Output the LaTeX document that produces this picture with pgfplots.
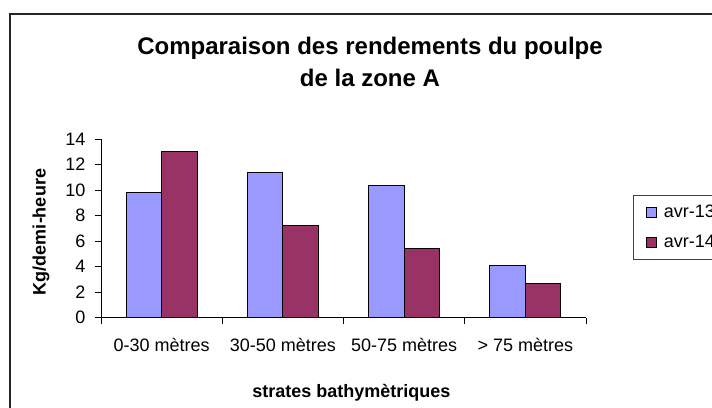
\documentclass[border=0pt]{standalone}
\usepackage{pgfplots}
\pgfplotsset{compat=1.18}
\usepackage{fontspec}
\setmainfont{Liberation Sans}
\definecolor{c13}{HTML}{9999FF}
\definecolor{c14}{HTML}{993366}
\begin{document}
\begin{tikzpicture}[x=1pt,y=1pt]
\useasboundingbox (0,0) rectangle (712,407);
\draw[line width=1.2pt, black!85] (10,-10) -- (10,393) -- (730,393);
\begin{axis}[
  at={(101pt,89.5pt)}, anchor=south west,
  scale only axis, width=485pt, height=178.5pt,
  xmin=-0.5, xmax=3.5, ymin=0, ymax=14,
  ybar=0pt, bar width=35.5pt,
  axis lines*=left,
  axis line style={line width=0.8pt, black},
  xtick={-0.5,0.5,1.5,2.5,3.5},
  xticklabels={},
  extra x ticks={0,1,2,3},
  extra x tick labels={0-30 mètres, 30-50 mètres, 50-75 mètres, > 75 mètres},
  extra x tick style={major tick length=0pt},
  xticklabel style={yshift=-17pt},
  ytick={0,2,...,14},
  yticklabel style={xshift=-6pt},
  tick align=outside,
  major tick length=6pt,
  tick style={black, line width=0.8pt},
  ticklabel style={font=\fontsize{18}{20}\selectfont},
  /pgf/number format/assume math mode=true,
  legend style={at={(1.097,0.686)}, anchor=north west, draw=black!75, line width=0.6pt,
    font=\fontsize{18}{20}\selectfont, inner xsep=13pt, inner ysep=8pt, row sep=12pt,
    cells={anchor=west}, /tikz/every odd column/.append style={column sep=5pt}},
  legend image code/.code={\draw[#1, draw=black, line width=0.6pt] (0pt,-5pt) rectangle (10pt,5pt);},
]
\addplot[fill=c13, draw=black, line width=0.8pt] coordinates {(0,9.8) (1,11.4) (2,10.35) (3,4.05)};
\addlegendentry{avr-13}
\addplot[fill=c14, draw=black, line width=0.8pt] coordinates {(0,13.05) (1,7.25) (2,5.45) (3,2.7)};
\addlegendentry{avr-14}
\end{axis}
\node[anchor=base, font=\fontsize{24}{28}\selectfont\bfseries] at (370,352) {Comparaison des rendements du poulpe};
\node[anchor=base, font=\fontsize{24}{28}\selectfont\bfseries] at (370,320.3) {de la zone A};
\node[rotate=90, font=\fontsize{18}{20}\selectfont\bfseries] at (41,175) {Kg/demi-heure};
\node[anchor=base, font=\fontsize{18}{20}\selectfont\bfseries] at (351.5,10) {strates bathymètriques};
\end{tikzpicture}
\end{document}
